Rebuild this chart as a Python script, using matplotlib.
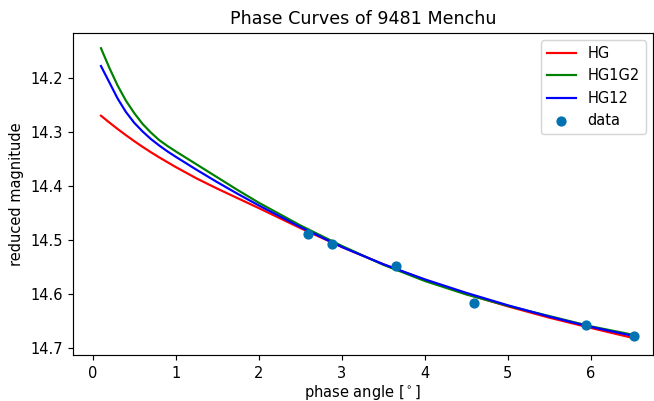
import matplotlib
matplotlib.use('Agg')
from matplotlib import pyplot as plt

alpha = [0.1, 0.2, 0.3, 0.4, 0.5, 0.6, 0.7, 0.8, 0.9, 1.0, 1.25, 1.5,
         1.75, 2.0, 2.5, 3.0, 3.5, 4.0, 4.5, 5.0, 5.5, 6.0, 6.52]

mag_hg = [14.270, 14.2825, 14.2945, 14.306, 14.317, 14.3275, 14.3375, 14.347, 14.356, 14.365,
          14.386, 14.405, 14.423, 14.441, 14.478, 14.513, 14.545, 14.574, 14.600, 14.623,
          14.644, 14.663, 14.682]
mag_hg1g2 = [14.145, 14.181, 14.214, 14.242, 14.265, 14.285, 14.301, 14.315, 14.326, 14.336,
             14.360, 14.384, 14.408, 14.431, 14.473, 14.511, 14.546, 14.576, 14.601, 14.622,
             14.641, 14.660, 14.676]
mag_hg12 = [14.178, 14.208, 14.238, 14.263, 14.283, 14.299, 14.313, 14.325, 14.336, 14.346,
            14.370, 14.393, 14.415, 14.436, 14.476, 14.513, 14.545, 14.573, 14.598, 14.621,
            14.642, 14.661, 14.678]

# observations
obs_alpha = [2.594, 2.883, 3.65, 4.594, 5.936, 6.518]
obs_mag = [14.4895, 14.507, 14.548, 14.616, 14.658, 14.678]

fig = plt.figure(figsize=(654/105, 401/105), dpi=105)
ax = fig.add_axes([0.1116, 0.1135, 0.887, 0.804])

ax.plot(alpha, mag_hg, color='red', label='HG')
ax.plot(alpha, mag_hg1g2, color='green', label='HG1G2')
ax.plot(alpha, mag_hg12, color='blue', label='HG12')
ax.scatter(obs_alpha, obs_mag, color='#0072b2', label='data', zorder=3)

ax.set_xlim(-0.237, 6.75)
ax.set_ylim(14.714, 14.117)
ax.set_xlabel('phase angle [$^\\circ$]', labelpad=1.5)
ax.set_ylabel('reduced magnitude')
ax.set_title('Phase Curves of 9481 Menchu')
ax.legend(loc='upper right')

fig.savefig('out.png', dpi=105)
